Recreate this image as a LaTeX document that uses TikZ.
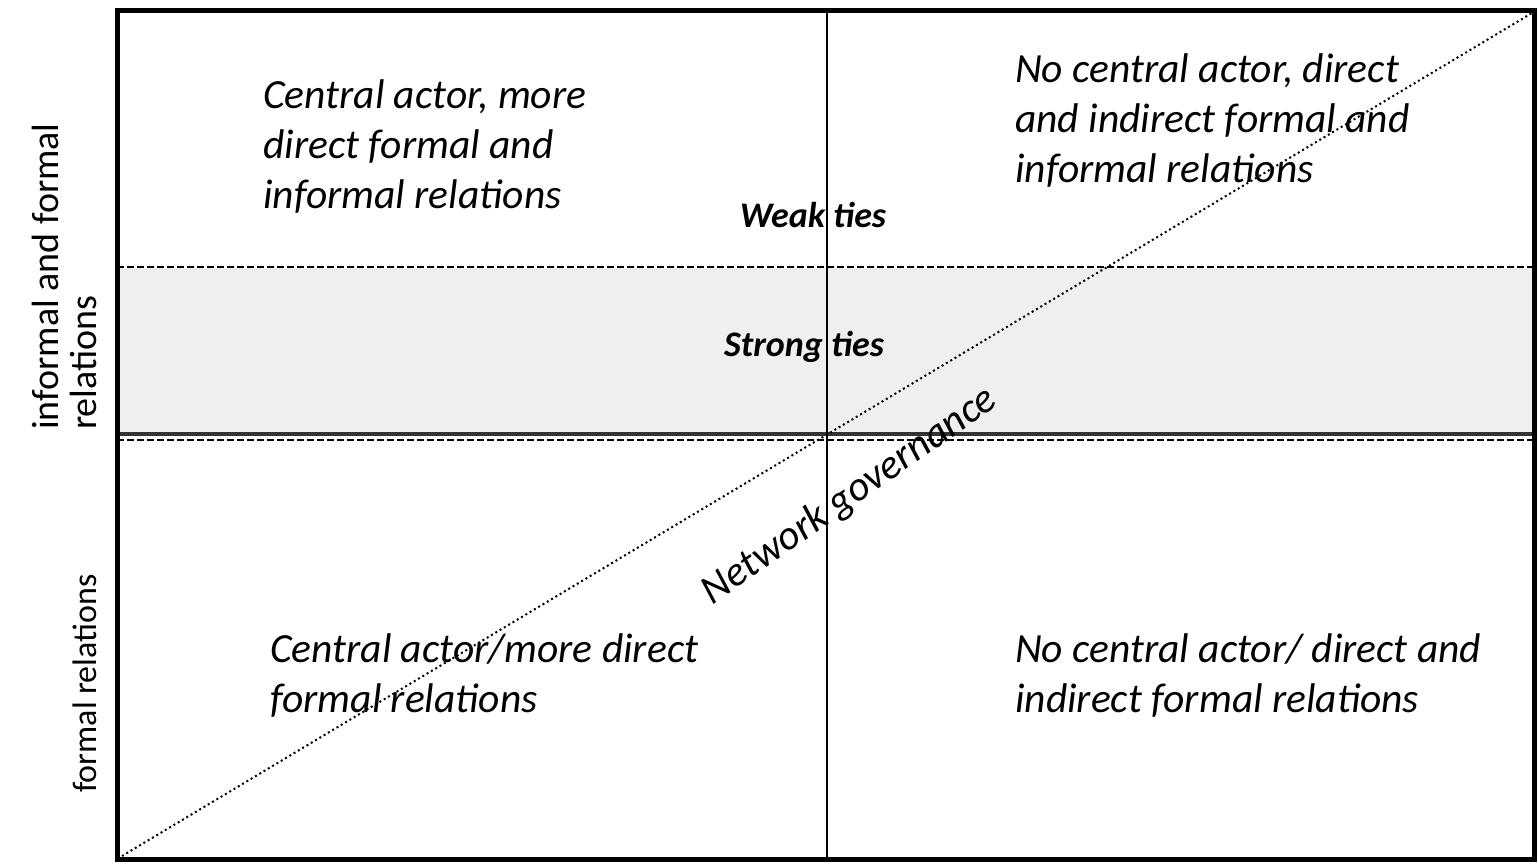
\documentclass[tikz,border=0pt]{standalone}
\usepackage{fontspec}
\setmainfont{Carlito}
\usetikzlibrary{positioning}
\definecolor{bandgray}{HTML}{EFEFEF}
\definecolor{bandedge}{HTML}{333333}
\tikzset{
        % Quadrant descriptions
        quad_text/.style={align=left, anchor=base west, inner sep=0pt, font=\fontsize{41.5}{50}\selectfont\itshape},
        % Tie strength labels
        tie_text/.style={anchor=base, inner sep=0pt, font=\fontsize{36}{43}\selectfont\bfseries\itshape},
        % Axis labels on the left
        axis_label/.style={align=left, rotate=90, inner sep=0pt, font=\fontsize{34}{40}\selectfont},
        % Dashed band borders
        band_line/.style={line width=2.2pt, dash pattern=on 7pt off 3pt}
}

\begin{document}
\begin{tikzpicture}[x=1pt, y=-1pt]
    \useasboundingbox (0,0) rectangle (1538,865);
    % frame corners
    \coordinate (frame_tl) at (117,10);
    \coordinate (frame_br) at (1534.5,859);
    % band of strong ties
    \fill[bandgray] (117,268) rectangle (1534.5,432);
    \coordinate (weak_l) at (117,267);
    \coordinate (weak_r) at (1534.5,267);
    \coordinate (strong_l) at (117,434);
    \coordinate (strong_r) at (1534.5,434);
    \coordinate (low_l) at (117,440);
    \coordinate (low_r) at (1534.5,440);
    \draw[band_line] (weak_l) -- (weak_r);
    \draw[bandedge, line width=4.5pt] (strong_l) -- (strong_r);
    \draw[band_line] (low_l) -- (low_r);
    % vertical divider
    \coordinate (mid_top) at (827,10);
    \coordinate (mid_bot) at (827,859);
    \draw[line width=1.2pt] (mid_top) -- (mid_bot);
    % diagonal
    \coordinate (diag_start) at (122,856);
    \coordinate (diag_end) at (1532,13);
    \draw[line width=2pt, dash pattern=on 2pt off 3pt] (diag_start) -- (diag_end);
    \draw[line width=5pt] (frame_tl) rectangle (frame_br);

    \node[quad_text] (central_formal_informal) at (263,208) {Central actor, more\\direct formal and\\informal relations};
    \node[quad_text] (nocentral_formal_informal) at (1015,182) {No central actor, direct\\and indirect formal and\\informal relations};
    \node[quad_text] (central_formal) at (270,712) {Central actor/more direct\\formal relations};
    \node[quad_text] (nocentral_formal) at (1015,712) {No central actor/ direct and\\indirect formal relations};

    \node[tie_text] (weak) at (813,227) {Weak ties};
    \node[tie_text] (strong) at (804,356) {Strong ties};

    \node[quad_text, anchor=base, rotate=35] (governance) at (856,505) {Network governance};

    \node[axis_label, anchor=south west, font=\fontsize{38}{38}\selectfont] (upper_axis) at (97,430) {informal and formal\\relations};
    \node[axis_label, anchor=base west] (lower_axis) at (96,793) {formal relations};
\end{tikzpicture}
\end{document}
